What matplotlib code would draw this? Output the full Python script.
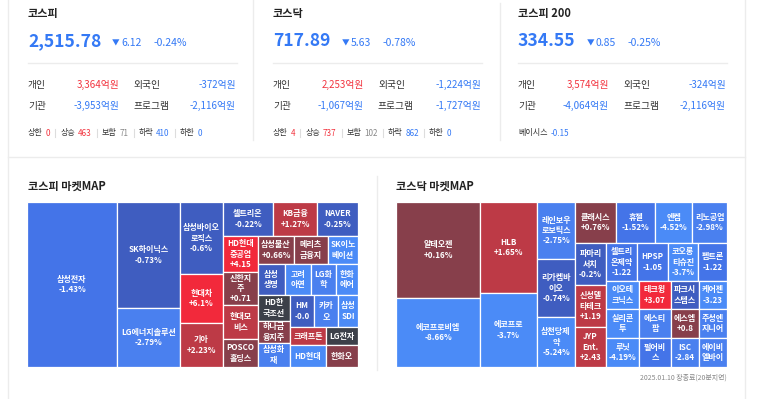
import matplotlib
matplotlib.use("Agg")
import matplotlib.pyplot as plt
from matplotlib.patches import Rectangle

plt.rcParams['font.family'] = ['Noto Sans CJK KR', 'DejaVu Sans']

W, H = 773, 399

# --- index summary data ---
index_names = ["코스피", "코스닥", "코스피 200"]
index_values = [2515.78, 717.89, 334.55]
index_diffs = [-6.12, -5.63, -0.85]
index_pcts = [-0.24, -0.78, -0.25]
investor_labels = ["개인", "외국인", "기관", "프로그램"]
investor_values = [
    [3364, -372, -3953, -2116],
    [2253, -1224, -1067, -1727],
    [3574, -324, -4064, -2116],
]
breadth_labels = ["상한", "상승", "보합", "하락", "하한"]
breadth_values = [
    [0, 463, 71, 410, 0],
    [4, 737, 102, 862, 0],
]
basis_value = -0.15

# --- KOSPI market map ---
kospi_labels = [
    "삼성전자\n-1.43%", "SK하이닉스\n-0.73%", "LG에너지솔루션\n-2.79%",
    "삼성바이오\n로직스\n-0.6%", "현대차\n+6.1%", "기아\n+2.23%",
    "셀트리온\n-0.22%", "KB금융\n+1.27%", "NAVER\n-0.25%",
    "HD현대\n중공업\n+4.15", "신한지\n주\n+0.71", "현대모\n비스", "POSCO\n홀딩스",
    "삼성물산\n+0.66%", "메리츠\n금융지", "SK이노\n베이션",
    "삼성\n생명", "고려\n아연", "LG화\n학", "한화\n에어",
    "HD한\n국조선", "하나금\n융지주", "삼성화\n재",
    "HM\n-0.0", "카카\n오", "삼성\nSDI",
    "크래프톤", "HD현대", "LG전자", "한화오",
]
kospi_change = [
    -1.43, -0.73, -2.79, -0.6, 6.1, 2.23, -0.22, 1.27, -0.25,
    4.15, 0.71, 1.8, 0.4, 0.66, 0.5, -3.3, -0.6, -3.5, -2.2, -3.4,
    0.0, 0.5, -2.5, -0.04, -2.0, -3.1, 1.4, -3.0, 0.0, 0.5,
]
kospi_weight = [
    14850, 6678, 3717, 3096, 2107, 1892, 1700, 1496, 1394,
    1260, 1155, 1190, 980, 1008, 952, 840, 837, 806, 775, 682,
    832, 704, 768, 768, 768, 640, 648, 792, 576, 704,
]
kospi_tree = ('h', [0, ('v', [1, 2]), ('v', [3, 4, 5]),
                    ('v', [('h', [6, 7, 8]),
                           ('h', [('v', [9, 10, 11, 12]),
                                  ('v', [('h', [13, 14, 15]),
                                         ('h', [16, 17, 18, 19]),
                                         ('h', [('v', [20, 21, 22]),
                                                ('v', [('h', [23, 24, 25]),
                                                       ('h', [('v', [26, 27]),
                                                              ('v', [28, 29])])])])])])])])

# --- KOSDAQ market map ---
kosdaq_labels = [
    "알테오젠\n+0.16%", "에코프로비엠\n-8.66%", "HLB\n+1.65%", "에코프로\n-3.7%",
    "레인보우\n로보틱스\n-2.75%", "리가켐바\n이오\n-0.74%", "삼천당제\n약\n-5.24%",
    "클래시스\n+0.76%", "휴젤\n-1.52%", "엔켐\n-4.52%", "리노공업\n-2.98%",
    "파마리\n서치\n-0.2%", "신성델\n타테크\n+1.19", "JYP\nEnt.\n+2.43",
    "셀트리\n온제약\n-1.22", "HPSP\n-1.05", "코오롱\n티슈진\n-3.7%", "펩트론\n-1.22",
    "이오테\n크닉스", "실리콘\n투", "루닛\n-4.19%",
    "테크윙\n+3.07", "에스티\n팜", "펄어비\n스",
    "파크시\n스템스", "에스엠\n+0.8", "ISC\n-2.84",
    "케어젠\n-3.23", "주성엔\n지니어", "에이비\n엘바이",
]
kosdaq_change = [
    0.16, -8.66, 1.65, -3.7, -2.75, -0.74, -5.24,
    0.76, -1.52, -4.52, -2.98, -0.2, 1.19, 2.43,
    -1.22, -1.05, -3.7, -1.22,
    -3.5, -3.3, -4.19, 3.07, -2.0, -1.5,
    -0.5, 0.8, -2.84, -3.23, -2.5, -2.5,
]
kosdaq_weight = [
    8064, 5796, 5187, 4218, 2166, 2204, 1900,
    1681, 1599, 1517, 1435, 1302, 1302, 1240,
    1178, 1178, 1140, 1102,
    924, 957, 957, 896, 928, 928,
    784, 812, 812, 784, 812, 812,
]
kosdaq_tree = ('h', [('v', [0, 1]), ('v', [2, 3]), ('v', [4, 5, 6]),
                     ('v', [('h', [7, 8, 9, 10]),
                            ('h', [('v', [11, 12, 13]),
                                   ('v', [('h', [14, 15, 16, 17]),
                                          ('h', [('v', [18, 19, 20]),
                                                 ('v', [21, 22, 23]),
                                                 ('v', [24, 25, 26]),
                                                 ('v', [27, 28, 29])])])])])])

RED = '#f2343f'
BLUE = '#3479f5'
DARK = '#333333'
LINE = '#ececec'


def change_color(c):
    if c >= 3:
        return '#f2293b'
    if c >= 1:
        return '#bd3a46'
    if c > 0:
        return '#873f4b'
    if c == 0:
        return '#3c4049'
    if c > -1:
        return '#3f5dc0'
    if c > -2:
        return '#4474e8'
    if c > -3:
        return '#4a80ef'
    return '#4b8bf7'


def node_weight(node, weights):
    if isinstance(node, int):
        return weights[node]
    return sum(node_weight(k, weights) for k in node[1])


def layout(node, x, y, w, h, weights, out):
    """Slice the box along the given direction, proportional to weights."""
    if isinstance(node, int):
        out[node] = (x, y, w, h)
        return
    d, kids = node
    tots = [node_weight(k, weights) for k in kids]
    s = sum(tots)
    pos = 0.0
    for k, t in zip(kids, tots):
        f = t / s
        if d == 'h':
            layout(k, x + pos * w, y, f * w, h, weights, out)
        else:
            layout(k, x, y + pos * h, w, f * h, weights, out)
        pos += f


def draw_treemap(ax, tree, labels, changes, weights):
    rects = {}
    layout(tree, 0, 0, 1, 1, weights, rects)
    for i, (x, y, w, h) in rects.items():
        ax.add_patch(Rectangle((x, y), w, h, facecolor=change_color(changes[i]),
                               edgecolor='white', linewidth=0.9))
        ax.text(x + w / 2, y + h / 2, labels[i], ha='center', va='center',
                color='white', fontsize=5.8, fontweight='bold', linespacing=1.2)
    ax.set_xlim(0, 1)
    ax.set_ylim(1, 0)
    ax.axis('off')


fig = plt.figure(figsize=(W / 100, H / 100), dpi=100)
bg = fig.add_axes([0, 0, 1, 1])
bg.set_xlim(0, W)
bg.set_ylim(H, 0)
bg.axis('off')
r = fig.canvas.get_renderer()


def text_w(t):
    return t.get_window_extent(renderer=r).width


def sign_color(v):
    return RED if v > 0 else BLUE if v < 0 else '#888888'


# frame lines
bg.plot([8, 8], [0, H], color=LINE, lw=1)
bg.plot([745, 745], [0, H], color=LINE, lw=1)
bg.plot([253, 253], [0, 140], color=LINE, lw=1)
bg.plot([500, 500], [3, 140], color=LINE, lw=1)
bg.plot([8, 745], [157, 157], color=LINE, lw=1)
bg.plot([377, 377], [176, 370], color=LINE, lw=1)

for i in range(3):
    x0 = 28 + 245 * i
    bg.text(x0, 13, index_names[i], fontsize=8, fontweight='bold', color='#222222', va='center')
    t = bg.text(x0, 41, f"{index_values[i]:,.2f}", fontsize=12.6, fontweight='bold',
                color=BLUE, va='center')
    xa = x0 + text_w(t) + 11
    bg.text(xa, 43, "▼", fontsize=5.5, color=BLUE, va='center')
    bg.text(xa + 9, 43, f"{abs(index_diffs[i]):.2f}", fontsize=7.5, color=BLUE, va='center')
    bg.text(xa + 41, 43, f"{index_pcts[i]:.2f}%", fontsize=7.5, color=BLUE, va='center')
    bg.plot([x0, x0 + 209], [63, 63], color=LINE, lw=1)

    vals = investor_values[i]
    for row in range(2):
        y = 85 + 21 * row
        for col in range(2):
            k = row * 2 + col
            lx = x0 + 105 * col
            rx = x0 + 91 if col == 0 else x0 + 208
            bg.text(lx, y, investor_labels[k], fontsize=7, color=DARK, va='center')
            bg.text(rx, y, f"{vals[k]:,}억원", fontsize=7, color=sign_color(vals[k]),
                    va='center', ha='right')

    if i < 2:
        x = x0
        for k, (lab, v) in enumerate(zip(breadth_labels, breadth_values[i])):
            t = bg.text(x, 133, lab, fontsize=5.8, color=DARK, va='center')
            x += text_w(t) + 3
            col = RED if k < 2 else ('#888888' if k == 2 else BLUE)
            t = bg.text(x, 133, str(v), fontsize=5.8, color=col, va='center')
            x += text_w(t) + 5
            if k < 4:
                bg.plot([x, x], [129, 137], color='#dddddd', lw=0.8)
                x += 5
    else:
        t = bg.text(x0, 133, "베이시스", fontsize=5.8, color=DARK, va='center')
        bg.text(x0 + text_w(t) + 3, 133, f"{basis_value:.2f}", fontsize=5.8,
                color=sign_color(basis_value), va='center')

bg.text(28, 186, "코스피 마켓MAP", fontsize=8, fontweight='bold', color='#222222', va='center')
bg.text(396, 186, "코스닥 마켓MAP", fontsize=8, fontweight='bold', color='#222222', va='center')
bg.text(727, 378, "2025.01.10 장종료(20분지연)", fontsize=5, color='#888888',
        va='center', ha='right')

ax1 = fig.add_axes([27 / W, 1 - 367 / H, 331 / W, 165 / H])
draw_treemap(ax1, kospi_tree, kospi_labels, kospi_change, kospi_weight)
ax2 = fig.add_axes([396 / W, 1 - 367 / H, 331 / W, 165 / H])
draw_treemap(ax2, kosdaq_tree, kosdaq_labels, kosdaq_change, kosdaq_weight)

fig.savefig("out.png", dpi=100)
